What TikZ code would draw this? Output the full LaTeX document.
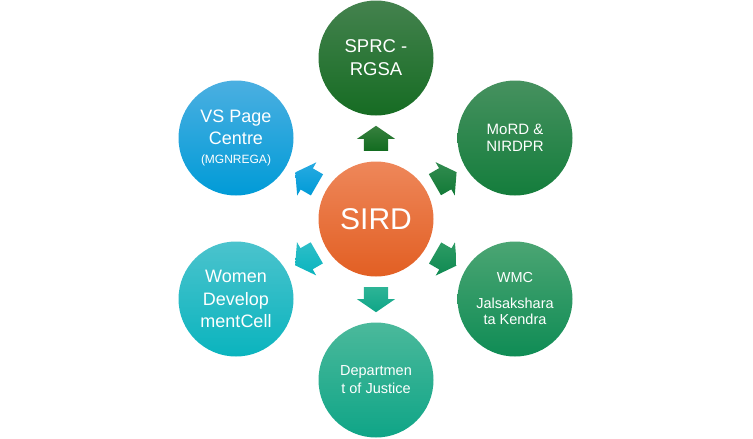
\documentclass[tikz,border=0pt]{standalone}
\usepackage{fontspec}
\setmainfont{Liberation Sans}
\usetikzlibrary{shapes.arrows,calc}
\definecolor{sprcT}{RGB}{68,130,78}\definecolor{sprcB}{RGB}{22,108,35}
\definecolor{sirdT}{RGB}{238,135,90}\definecolor{sirdB}{RGB}{226,95,35}
\definecolor{mordT}{RGB}{70,145,95}\definecolor{mordB}{RGB}{20,125,60}
\definecolor{wmcT}{RGB}{75,165,115}\definecolor{wmcB}{RGB}{15,140,85}
\definecolor{dojT}{RGB}{75,185,155}\definecolor{dojB}{RGB}{15,165,135}
\definecolor{womT}{RGB}{75,195,205}\definecolor{womB}{RGB}{10,180,190}
\definecolor{vsT}{RGB}{75,175,225}\definecolor{vsB}{RGB}{0,155,215}
\begin{document}
\begin{tikzpicture}[x=1pt,y=-1pt,
  ball/.style={circle, minimum size=115pt, inner sep=0pt, text=white, align=center},
  blk/.style={single arrow, minimum height=25pt,
    single arrow head extend=7pt, single arrow tip angle=111, inner sep=0pt,
    draw=none, anchor=tail}]
\useasboundingbox (0,0) rectangle (753,439);
\node[ball, top color=sirdT, bottom color=sirdB, font=\fontsize{30}{34}\selectfont] (c) at (376,219)
  {SIRD};
\node[ball, top color=sprcT, bottom color=sprcB, font=\fontsize{18.5}{23}\selectfont] (n1) at (376,58)
  {SPRC -\\RGSA};
\node[ball, top color=mordT, bottom color=mordB, font=\fontsize{15}{17}\selectfont] (n2) at (515,138)
  {MoRD \&\\NIRDPR};
\node[ball, top color=wmcT, bottom color=wmcB, font=\fontsize{14.5}{16.5}\selectfont] (n3) at (515,299)
  {WMC\\[9pt]Jalsakshara\\ta Kendra};
\node[ball, top color=dojT, bottom color=dojB, font=\fontsize{14.5}{18}\selectfont] (n4) at (376,380)
  {Departmen\\t of Justice};
\node[ball, top color=womT, bottom color=womB, font=\fontsize{18}{22.5}\selectfont] (n5) at (236,299)
  {Women\\Develop\\mentCell};
\node[ball, top color=vsT, bottom color=vsB, font=\fontsize{18}{22}\selectfont] (n6) at (236,138)
  {VS Page\\Centre\\[-3pt]{\fontsize{12}{14}\selectfont(MGNREGA)}};
\node[blk, rotate=90, top color={rgb,255:red,55;green,128;blue,62}, bottom color={rgb,255:red,18;green,108;blue,32}] (a1) at ($(c)!68pt!(n1)$) {\rule{0pt}{24pt}};
\node[blk, rotate=30, top color={rgb,255:red,50;green,140;blue,80}, bottom color={rgb,255:red,18;green,122;blue,55}] (a2) at ($(c)!68pt!(n2)$) {\rule{0pt}{24pt}};
\node[blk, rotate=-30, top color={rgb,255:red,45;green,155;blue,100}, bottom color={rgb,255:red,15;green,138;blue,82}] (a3) at ($(c)!68pt!(n3)$) {\rule{0pt}{24pt}};
\node[blk, rotate=-90, top color={rgb,255:red,45;green,180;blue,150}, bottom color={rgb,255:red,15;green,165;blue,135}] (a4) at ($(c)!68pt!(n4)$) {\rule{0pt}{24pt}};
\node[blk, rotate=-150, top color={rgb,255:red,45;green,190;blue,200}, bottom color={rgb,255:red,10;green,180;blue,190}] (a5) at ($(c)!68pt!(n5)$) {\rule{0pt}{24pt}};
\node[blk, rotate=150, top color={rgb,255:red,40;green,170;blue,225}, bottom color={rgb,255:red,0;green,155;blue,215}] (a6) at ($(c)!68pt!(n6)$) {\rule{0pt}{24pt}};
\end{tikzpicture}
\end{document}
